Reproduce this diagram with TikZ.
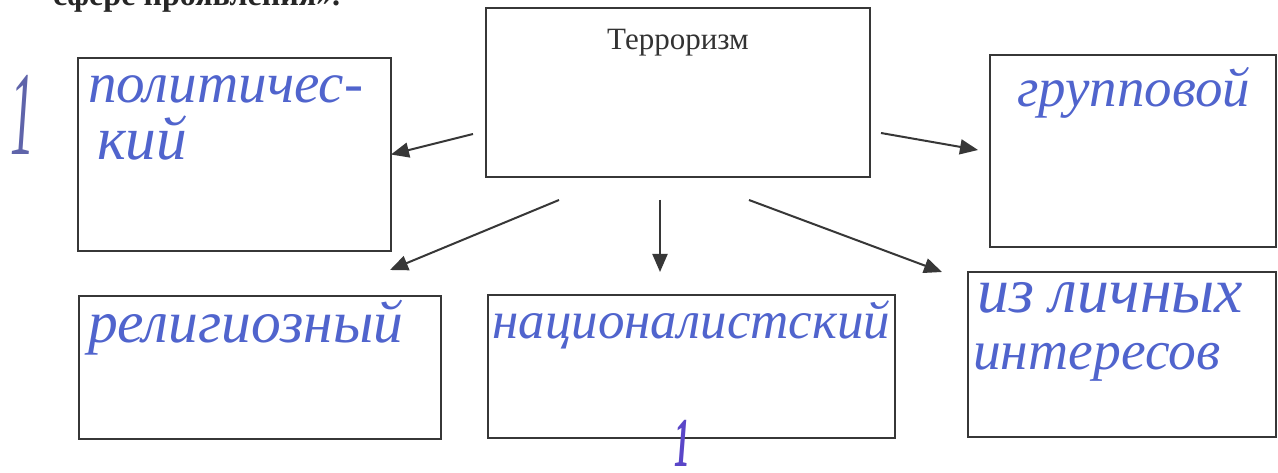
\documentclass[tikz,border=0pt]{standalone}
\usepackage{fontspec}
\setmainfont{Liberation Serif}
\newfontfamily\hand{Liberation Serif}
\usetikzlibrary{arrows.meta,calc}
\definecolor{ink}{RGB}{80,100,205}
\definecolor{inkb}{RGB}{90,70,200}
\definecolor{inkg}{RGB}{95,100,170}
\definecolor{linec}{RGB}{55,55,55}
\newcommand\hw[2]{\resizebox{#1pt}{!}{\fontsize{60}{60}\selectfont\hand\itshape #2}}
\begin{document}
\begin{tikzpicture}[x=1pt,y=-1pt,
  box/.style={draw=linec,line width=2pt,rectangle,inner sep=0pt,outer sep=0pt,fill=none},
  arr/.style={draw=linec,line width=2pt,-{Triangle[length=18pt,width=15pt]}},
  handtxt/.style={anchor=base west,inner sep=0pt,text=ink},
  onemark/.style={anchor=base,inner sep=0pt}]
\useasboundingbox (0,0) rectangle (1278,473);
\fill[white] (0,0) rectangle (1278,473);
\clip (0,0) rectangle (1278,473);

\node[anchor=base west,inner sep=0pt,text=black!85] (head) at (53,6)
  {\resizebox{287pt}{!}{\bfseries сфере проявления».}};

\node[box,minimum width=384pt,minimum height=169pt] (top) at (678,92.5) {};
\node[anchor=base,inner sep=0pt,text=black!80,font=\fontsize{31}{31}\selectfont] (toptext) at (678,50) {Терроризм};

\node[box,minimum width=313pt,minimum height=193pt] (left) at (234.5,154.5) {};
\node[box,minimum width=286pt,minimum height=192pt] (right) at (1133,151) {};
\node[box,minimum width=362pt,minimum height=143pt] (botleft) at (260,367.5) {};
\node[box,minimum width=407pt,minimum height=143pt] (botmid) at (691.5,366.5) {};
\node[box,minimum width=308pt,minimum height=165pt] (botright) at (1122,354.5) {};

\draw[arr] ($(top.south west)+(-13,-43)$) -- (left.east);
\draw[arr] ($(top.south east)+(11,-44)$) -- ($(right.west)+(-12,-1)$);
\draw[arr] ($(top.south west)+(73,23)$) -- ($(botleft.north east)+(-51,-26)$);
\draw[arr] ($(top.south)+(-18,23)$) -- ($(botmid.north)+(-31.5,-23)$);
\draw[arr] ($(top.south)+(71,23)$) -- ($(botright.north west)+(-26,0)$);

\node[handtxt] (pol1) at (88,103) {\hw{275}{политичес-}};
\node[handtxt] (pol2) at (97,160) {\hw{90}{кий}};
\node[handtxt] (grp) at (1017,107) {\hw{233}{групповой}};
\node[handtxt] (rel) at (88,342) {\hw{315}{религиозный}};
\node[handtxt] (nat) at (492,338) {\hw{398}{националистский}};
\node[handtxt] (lich) at (977,313) {\hw{266}{из личных}};
\node[handtxt] (int) at (973,369) {\hw{247}{интересов}};

\node[onemark,text=inkg] (m1) at (22,155) {\scalebox{0.8}[2.0]{\fontsize{60}{60}\selectfont\hand\itshape 1}};
\node[onemark,text=inkb] (m2) at (682,466) {\scalebox{0.9}[2.0]{\fontsize{35}{35}\selectfont\hand\bfseries\itshape 1}};
\end{tikzpicture}
\end{document}
